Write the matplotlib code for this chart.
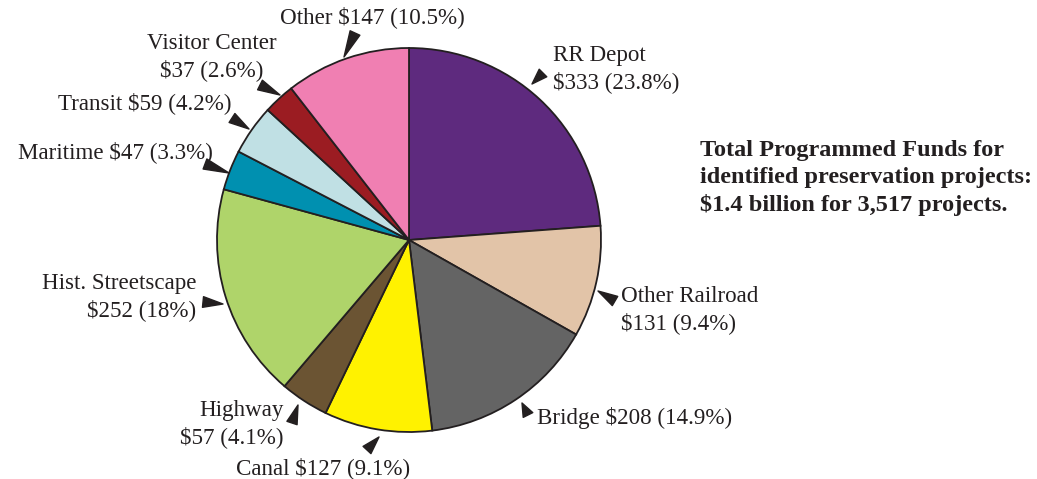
import numpy as np
import matplotlib.pyplot as plt

# funds in $ millions, clockwise from 12 o'clock
categories = ["RR Depot", "Other Railroad", "Bridge", "Canal", "Highway",
              "Hist. Streetscape", "Maritime", "Transit", "Visitor Center", "Other"]
values = [333, 131, 208, 127, 57, 252, 47, 59, 37, 147]
percents = [23.8, 9.4, 14.9, 9.1, 4.1, 18, 3.3, 4.2, 2.6, 10.5]
colors = ["#5e2a7e", "#e2c4a8", "#646464", "#fff200", "#6b5433",
          "#afd46a", "#0090b0", "#c0e0e4", "#9b1c22", "#f07fb2"]
# label text layout: True -> name and amount on two lines
two_line = [True, True, False, False, True, True, False, False, True, False]

W, H = 1037, 479

# layout in pixel coords (x, y from top): text anchor, alignment, arrow base, arrow tip
layout = [
    ((553, 69), "left", (543, 73), (532, 84)),
    ((621, 310), "left", (615, 301), (598, 291)),
    ((537, 418), "left", (528, 415), (522, 403)),
    ((323, 468), "center", (367, 450), (379, 437)),
    ((284, 424), "right", (292, 423), (298, 405)),
    ((196, 297), "right", (203, 302), (223, 304)),
    ((213, 152), "right", (205, 164), (229, 173)),
    ((231, 103), "right", (232, 118), (249, 129)),
    ((212, 57), "center", (260, 85), (280, 95)),
    ((372, 17), "center", (355, 33), (344, 57)),
]

plt.rcParams['font.family'] = ['Liberation Serif', 'DejaVu Serif']

fig = plt.figure(figsize=(W / 100, H / 100), dpi=100)
ax = fig.add_axes([0, 0, 1, 1])
ax.axis("off")


def P(x, y):
    return (x, H - y)


ax.pie(values, colors=colors, startangle=90, counterclock=False,
       center=P(409, 240), radius=192,
       wedgeprops=dict(edgecolor="#231f20", linewidth=1.3))
ax.set_xlim(0, W)
ax.set_ylim(0, H)
ax.set_aspect("equal")

for name, val, pct, two, (pos, ha, base, tip) in zip(categories, values, percents, two_line, layout):
    sep = "\n" if two else " "
    label = f"{name}{sep}${val} ({pct:g}%)"
    ax.text(*P(*pos), label, ha=ha, va="center", fontsize=16.6, color="#231f20",
            linespacing=1.33, multialignment=ha)
    ax.annotate("", xy=P(*tip), xytext=P(*base),
                arrowprops=dict(arrowstyle="wedge,tail_width=0.55", color="#231f20",
                                shrinkA=0, shrinkB=0, mutation_scale=14))

ax.text(*P(700, 178), "Total Programmed Funds for\nidentified preservation projects:\n$1.4 billion for 3,517 projects.",
        ha="left", va="center", fontsize=17.5, fontweight="bold", color="#231f20", linespacing=1.36)

fig.savefig("out.png", dpi=100)
